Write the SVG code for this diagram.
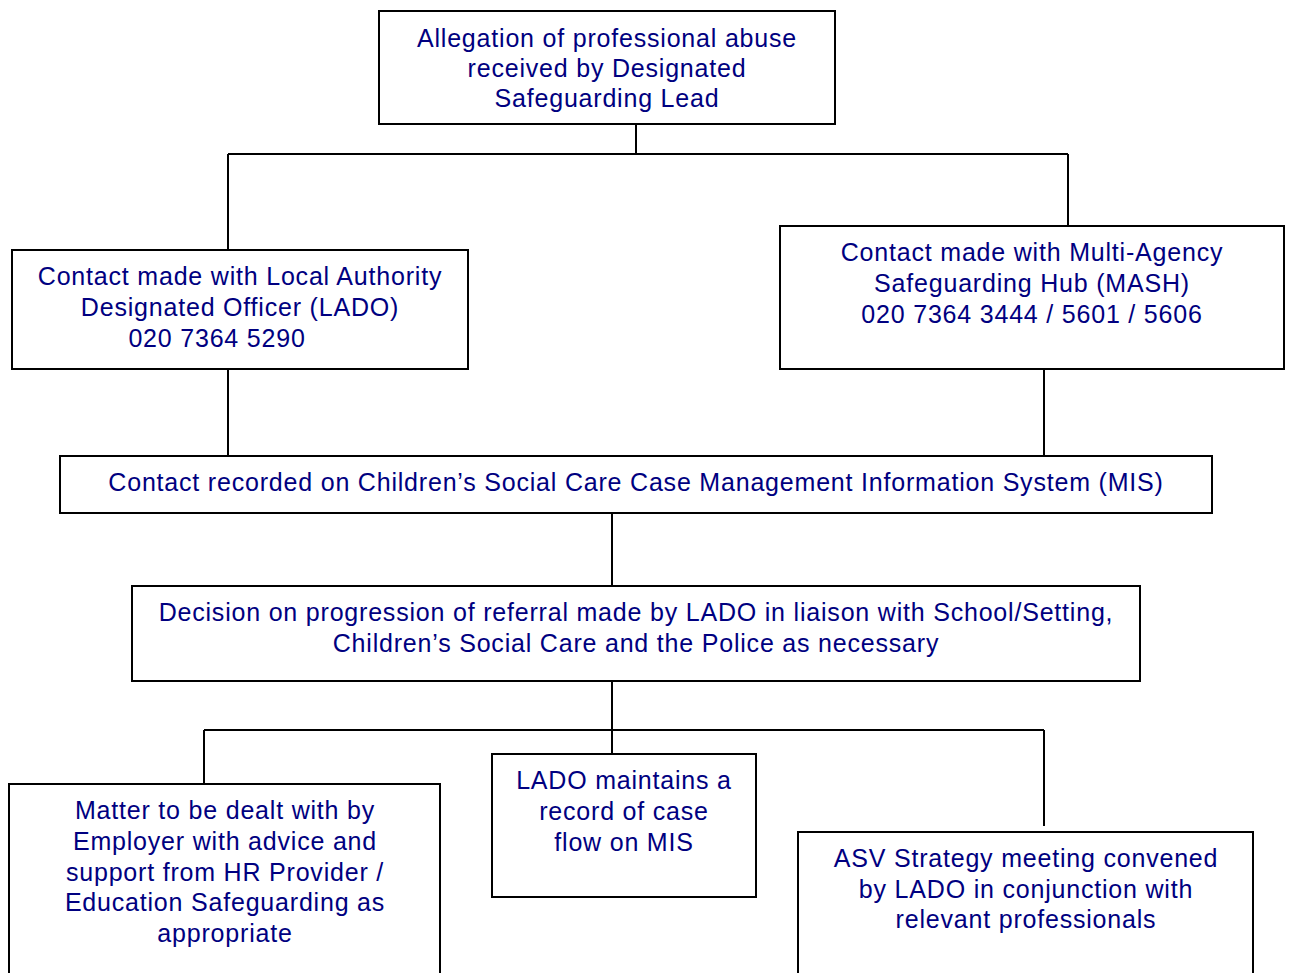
<svg xmlns="http://www.w3.org/2000/svg" width="1290" height="973" viewBox="0 0 1290 973">
<style>
.box{fill:#fff;stroke:#000;stroke-width:2}
.t{font-family:"Liberation Sans",Arial,sans-serif;font-size:25px;letter-spacing:0.8px;fill:#000080;text-anchor:middle}
.c{stroke:#000;stroke-width:2;fill:none}
</style>
<rect width="1290" height="973" fill="#fff"/>
<g id="connectors">
<path class="c" d="M636 124V154M228 154H1068M228 154V250M1068 154V226"/>
<path class="c" d="M228 369V456M1044 369V456"/>
<path class="c" d="M612 513V586"/>
<path class="c" d="M612 681V754M204 730H1044M204 730V784M1044 730V826"/>
</g>
<g id="allegation">
<rect class="box" x="379" y="11" width="456" height="113"/>
<text class="t" x="607" y="47">Allegation of professional abuse</text>
<text class="t" x="607" y="77">received by Designated</text>
<text class="t" x="607" y="107">Safeguarding Lead</text>
</g>
<g id="lado">
<rect class="box" x="12" y="250" width="456" height="119"/>
<text class="t" x="240" y="285">Contact made with Local Authority</text>
<text class="t" x="240" y="316">Designated Officer (LADO)</text>
<text class="t" x="217" y="347">020 7364 5290</text>
</g>
<g id="mash">
<rect class="box" x="780" y="226" width="504" height="143"/>
<text class="t" x="1032" y="261">Contact made with Multi-Agency</text>
<text class="t" x="1032" y="292">Safeguarding Hub (MASH)</text>
<text class="t" x="1032" y="323">020 7364 3444 / 5601 / 5606</text>
</g>
<g id="mis">
<rect class="box" x="60" y="456" width="1152" height="57"/>
<text class="t" x="636" y="491">Contact recorded on Children’s Social Care Case Management Information System (MIS)</text>
</g>
<g id="decision">
<rect class="box" x="132" y="586" width="1008" height="95"/>
<text class="t" x="636" y="621">Decision on progression of referral made by LADO in liaison with School/Setting,</text>
<text class="t" x="636" y="652">Children’s Social Care and the Police as necessary</text>
</g>
<g id="employer">
<rect class="box" x="9" y="784" width="431" height="200"/>
<text class="t" x="225" y="819">Matter to be dealt with by</text>
<text class="t" x="225" y="850">Employer with advice and</text>
<text class="t" x="225" y="881">support from HR Provider /</text>
<text class="t" x="225" y="911">Education Safeguarding as</text>
<text class="t" x="225" y="942">appropriate</text>
</g>
<g id="record">
<rect class="box" x="492" y="754" width="264" height="143"/>
<text class="t" x="624" y="789">LADO maintains a</text>
<text class="t" x="624" y="820">record of case</text>
<text class="t" x="624" y="851">flow on MIS</text>
</g>
<g id="asv">
<rect class="box" x="798" y="832" width="455" height="160"/>
<text class="t" x="1026" y="867">ASV Strategy meeting convened</text>
<text class="t" x="1026" y="898">by LADO in conjunction with</text>
<text class="t" x="1026" y="928">relevant professionals</text>
</g>
</svg>
